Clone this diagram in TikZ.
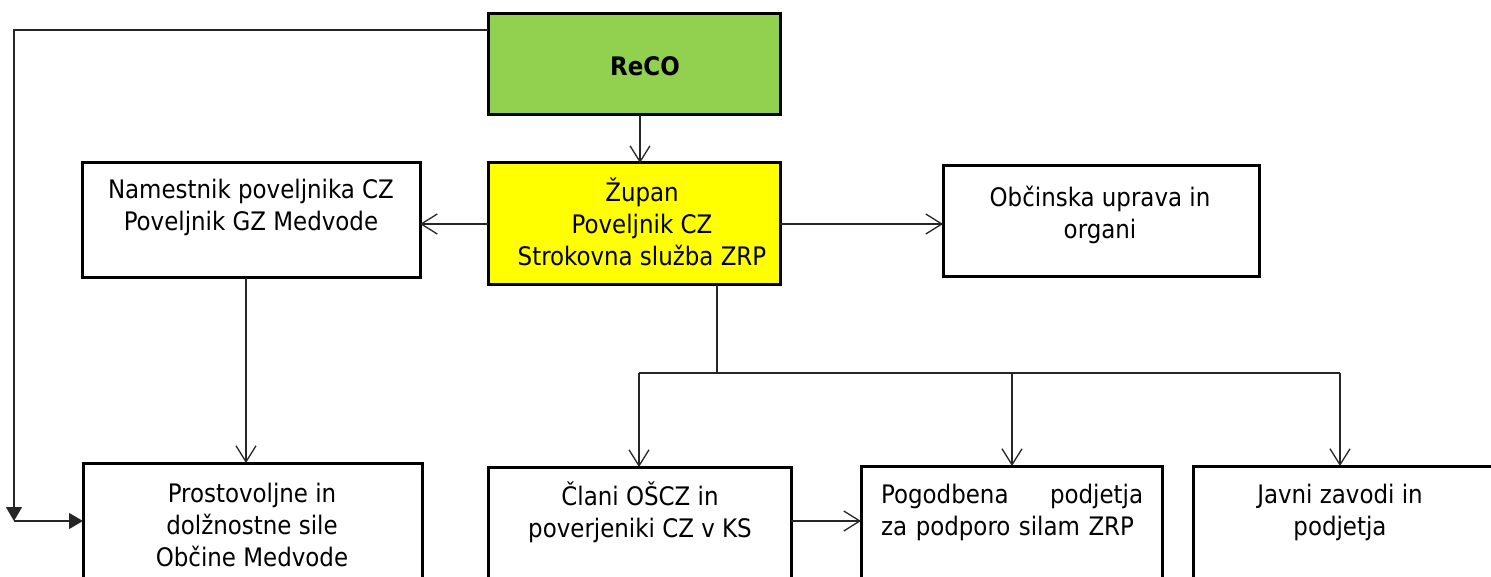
\documentclass[tikz,border=0pt]{standalone}
\usepackage{fontspec}
\setmainfont{DejaVu Sans Condensed}
\usetikzlibrary{arrows.meta}
\definecolor{recogreen}{HTML}{92D050}
\definecolor{zupyellow}{HTML}{FFFF00}
\newcommand{\tp}{\rule{0pt}{24pt}}
\begin{document}
\begin{tikzpicture}[x=1pt,y=-1pt,
  box/.style={draw=black, line width=3pt, inner sep=0pt, outer sep=0pt},
  txt/.style={inner sep=0pt, anchor=north, align=center, font=\fontsize{25.5}{32}\selectfont},
  conn/.style={draw=black!85, line width=1.4pt},
  oarrow/.style={conn, -{Straight Barb[length=16pt,width=20pt,line width=1.3pt]}},
  farrow/.style={conn, -{Triangle[length=14pt,width=16pt]}}]
\useasboundingbox (0,0) rectangle (1491,577);
\clip (0,0) rectangle (1491,577);

% boxes
\node[box, fill=recogreen, minimum width=292pt, minimum height=101pt] (reco) at (634,64.5) {};
\node[box, fill=zupyellow, minimum width=292pt, minimum height=122pt] (zup) at (634,224) {};
\node[box, minimum width=338pt, minimum height=115pt] (nam) at (251,220.5) {};
\node[box, minimum width=316pt, minimum height=111pt] (obc) at (1101,221.5) {};
\node[box, minimum width=339pt, minimum height=157pt] (prost) at (252.5,541.5) {};
\node[box, minimum width=303pt, minimum height=153pt] (clani) at (639.5,543.5) {};
\node[box, minimum width=301pt, minimum height=154pt] (pog) at (1011.5,543) {};
\node[box, minimum width=320pt, minimum height=154pt] (javni) at (1353,543) {};

% texts
\node[txt, font=\fontsize{25.5}{32}\selectfont\bfseries] (recot) at (645,51) {\tp ReCO};
\node[txt] (zupt) at (642,177) {\tp Župan\\Poveljnik CZ\\Strokovna služba ZRP};
\node[txt] (namt) at (251,174) {\tp Namestnik poveljnika CZ\\Poveljnik GZ Medvode};
\node[txt] (obct) at (1100,182) {\tp Občinska uprava in\\organi};
\node[txt] (prostt) at (252,478) {\tp Prostovoljne in\\dolžnostne sile\\Občine Medvode};
\node[txt] (clanit) at (640,481) {\tp Člani OŠCZ in\\poverjeniki CZ v KS};
\node[txt, anchor=north west, align=left, text width=262pt] (pogt) at (881,479) {\tp Pogodbena\hfill podjetja\\za podporo silam ZRP};
\node[txt] (javnit) at (1340,479) {\tp Javni zavodi in\\podjetja};

% connectors
\coordinate (bus) at (717,373);
\coordinate (bl) at (639,373);
\coordinate (bm) at (1012,373);
\coordinate (br) at (1340,373);
\coordinate (corner) at (14,521);
\coordinate (reconn) at (487,30);
\coordinate (namdown) at (246,300);
\coordinate (clanr) at (791,521);

\draw[oarrow] ([xshift=6pt]reco.south) -- ([xshift=6pt]zup.north);
\draw[oarrow] (zup.west) -- (zup.west -| nam.east);
\draw[oarrow] (zup.east) -- (zup.east -| obc.west);
\draw[conn] (zup.south -| bus) -- (bus);
\draw[conn] (bl) -- (br);
\draw[oarrow] (bl) -- (bl |- clani.north);
\draw[oarrow] (bm) -- (bm |- pog.north);
\draw[oarrow] (br) -- (br |- javni.north);
\draw[oarrow] (nam.south -| namdown) -- (namdown |- prost.north);
\draw[oarrow] (clani.east |- clanr) -- (clanr -| pog.west);
\draw[farrow] (reco.west |- reconn) -| (corner);
\draw[farrow] (corner) -- (corner -| prost.west);
\end{tikzpicture}
\end{document}
